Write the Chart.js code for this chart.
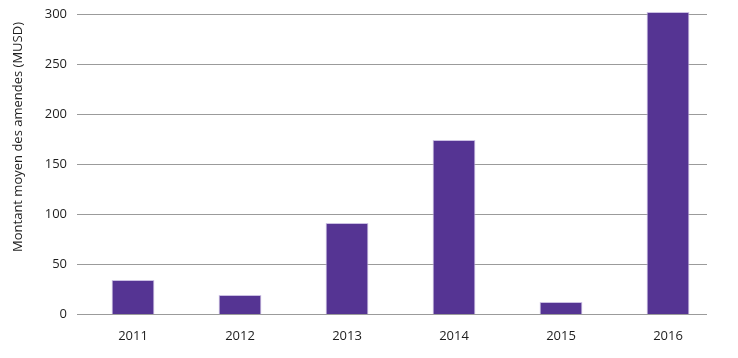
<!DOCTYPE html>
<html>
<head>
<meta charset="utf-8">
<script src="https://cdn.jsdelivr.net/npm/chart.js@4/dist/chart.umd.min.js"></script>
<style>
  html, body { margin: 0; padding: 0; background: #ffffff; }
  #wrap { width: 738px; height: 358px; }
</style>
</head>
<body>
<div id="wrap"><canvas id="c" width="738" height="358"></canvas></div>
<script>
const categories = ["2011", "2012", "2013", "2014", "2015", "2016"];
const values = [34, 19, 91, 174, 12, 302];
const yTicks = [0, 50, 100, 150, 200, 250, 300];
const yTitle = "Montant moyen des amendes (MUSD)";

const FONT = "'Open Sans', 'Noto Sans', sans-serif";

const gridPlugin = {
  id: 'customGrid',
  beforeDatasetsDraw(chart) {
    const ctx = chart.ctx;
    const y = chart.scales.y;
    ctx.save();
    ctx.strokeStyle = '#9b9b9b';
    ctx.lineWidth = 1;
    y.ticks.forEach(t => {
      const py = Math.round(y.getPixelForValue(t.value)) + 0.5;
      ctx.beginPath();
      ctx.moveTo(77, py);
      ctx.lineTo(707, py);
      ctx.stroke();
    });
    ctx.restore();
  },
  afterDraw(chart) {
    const ctx = chart.ctx;
    ctx.save();
    ctx.translate(18, 137);
    ctx.rotate(-Math.PI / 2);
    ctx.font = "13px " + FONT;
    ctx.fillStyle = '#1e1e1e';
    ctx.textAlign = 'center';
    ctx.textBaseline = 'middle';
    ctx.fillText(yTitle, 0, 0);
    ctx.restore();
  }
};

new Chart(document.getElementById('c'), {
  type: 'bar',
  data: {
    labels: categories,
    datasets: [{
      data: values,
      backgroundColor: '#553493',
      borderColor: '#cbc0e3',
      borderWidth: 1,
      categoryPercentage: 1.0,
      barPercentage: 0.4,
      clip: false
    }]
  },
  options: {
    responsive: false,
    animation: false,
    devicePixelRatio: 1,
    layout: { padding: { top: 14, right: 16.5, left: 0, bottom: 0 } },
    plugins: { legend: { display: false }, tooltip: { enabled: false } },
    scales: {
      x: {
        grid: { display: false, drawTicks: false },
        border: { display: false },
        ticks: { color: '#1e1e1e', font: { family: FONT, size: 13 }, padding: 14 },
        afterFit(s) { s.height = 44; s.paddingLeft = 0; s.paddingRight = 0; }
      },
      y: {
        min: 0,
        max: 300,
        afterBuildTicks(s) { s.ticks = yTicks.map(v => ({ value: v })); },
        grid: { display: false, drawTicks: false },
        border: { display: false },
        ticks: { color: '#1e1e1e', font: { family: FONT, size: 13 }, padding: 12.5 },
        afterFit(s) { s.width = 79.5; s.paddingTop = 0; s.paddingBottom = 0; }
      }
    }
  },
  plugins: [gridPlugin]
});
</script>
</body>
</html>
